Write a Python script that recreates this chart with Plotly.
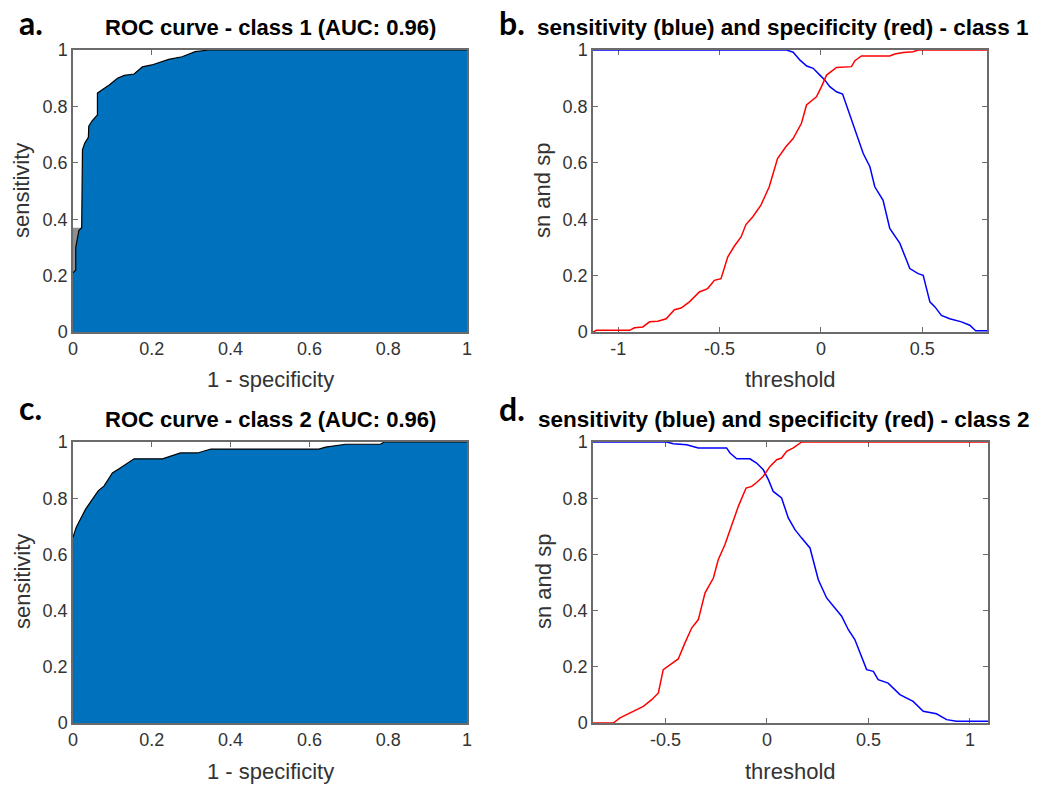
import plotly.graph_objects as go

# ---------------- data ----------------
# ROC curve, class 1: false positive rate (1 - specificity) vs sensitivity
roc1_fpr = [0.0, 0.007, 0.007, 0.011, 0.015, 0.022, 0.024, 0.030, 0.039, 0.040,
            0.049, 0.062, 0.062, 0.075, 0.092, 0.113, 0.130, 0.155, 0.176, 0.200,
            0.243, 0.277, 0.310, 0.345, 1.0]
roc1_tpr = [0.21, 0.22, 0.30, 0.33, 0.36, 0.37, 0.646, 0.67, 0.69, 0.73,
            0.75, 0.77, 0.847, 0.86, 0.876, 0.90, 0.91, 0.915, 0.94, 0.947,
            0.967, 0.976, 0.994, 1.0, 1.0]

# ROC curve, class 2
roc2_fpr = [0.0, 0.008, 0.019, 0.032, 0.049, 0.064, 0.079, 0.091, 0.100, 0.117,
            0.138, 0.155, 0.227, 0.253, 0.273, 0.316, 0.350, 0.624, 0.641, 0.692,
            0.780, 0.790, 1.0]
roc2_tpr = [0.661, 0.696, 0.726, 0.761, 0.796, 0.826, 0.844, 0.873, 0.890, 0.905,
            0.926, 0.940, 0.940, 0.953, 0.961, 0.961, 0.975, 0.975, 0.982, 0.992,
            0.992, 1.0, 1.0]

# Sensitivity / specificity vs threshold, class 1
sp1_thr = [-1.125, -1.108, -0.944, -0.920, -0.879, -0.846, -0.805, -0.764, -0.723, -0.690,
           -0.649, -0.600, -0.559, -0.526, -0.493, -0.460, -0.427, -0.394, -0.370, -0.337,
           -0.296, -0.255, -0.214, -0.173, -0.137, -0.096, -0.071, -0.022, 0.003, 0.028,
           0.077, 0.151, 0.168, 0.200, 0.340, 0.365, 0.406, 0.456, 0.480, 0.820]
sp1_val = [0.0, 0.006, 0.006, 0.015, 0.018, 0.036, 0.038, 0.047, 0.079, 0.085,
           0.107, 0.142, 0.154, 0.183, 0.189, 0.266, 0.305, 0.337, 0.381, 0.408,
           0.450, 0.515, 0.615, 0.657, 0.686, 0.740, 0.805, 0.834, 0.870, 0.911,
           0.938, 0.941, 0.962, 0.979, 0.979, 0.986, 0.991, 0.994, 1.0, 1.0]

sn1_thr = [-1.125, -0.169, -0.137, -0.103, -0.070, -0.038, -0.005, 0.020, 0.044, 0.077,
           0.107, 0.135, 0.176, 0.209, 0.242, 0.266, 0.307, 0.340, 0.390, 0.439,
           0.480, 0.505, 0.538, 0.563, 0.595, 0.636, 0.694, 0.735, 0.764, 0.820]
sn1_val = [1.0, 1.0, 0.992, 0.964, 0.943, 0.935, 0.911, 0.893, 0.870, 0.852,
           0.844, 0.787, 0.704, 0.633, 0.586, 0.515, 0.467, 0.367, 0.314, 0.225,
           0.207, 0.201, 0.107, 0.089, 0.059, 0.047, 0.036, 0.024, 0.004, 0.004]

# Sensitivity / specificity vs threshold, class 2
sp2_thr = [-0.857, -0.757, -0.724, -0.691, -0.650, -0.609, -0.568, -0.535, -0.511, -0.478,
           -0.437, -0.404, -0.371, -0.338, -0.305, -0.264, -0.240, -0.207, -0.182, -0.141,
           -0.103, -0.075, -0.051, -0.018, 0.015, 0.048, 0.072, 0.097, 0.130, 0.171, 1.089]
sp2_val = [0.0, 0.0, 0.018, 0.030, 0.042, 0.059, 0.083, 0.107, 0.190, 0.208,
           0.228, 0.285, 0.338, 0.368, 0.463, 0.516, 0.581, 0.635, 0.688, 0.771,
           0.836, 0.842, 0.856, 0.878, 0.913, 0.937, 0.943, 0.967, 0.979, 1.0, 1.0]

sn2_thr = [-0.857, -0.494, -0.461, -0.396, -0.338, -0.199, -0.182, -0.149, -0.084, -0.051,
           -0.018, 0.007, 0.031, 0.072, 0.105, 0.138, 0.171, 0.212, 0.253, 0.294,
           0.368, 0.401, 0.433, 0.491, 0.524, 0.548, 0.597, 0.655, 0.720, 0.770,
           0.835, 0.885, 0.934, 1.089]
sn2_val = [1.0, 1.0, 0.994, 0.990, 0.979, 0.979, 0.961, 0.940, 0.940, 0.925,
           0.901, 0.866, 0.824, 0.801, 0.730, 0.688, 0.658, 0.623, 0.510, 0.445,
           0.380, 0.332, 0.297, 0.190, 0.184, 0.154, 0.142, 0.101, 0.077, 0.042,
           0.033, 0.012, 0.006, 0.006]

roc_ticks = [0, 0.2, 0.4, 0.6, 0.8, 1]
roc_ticklabels = ["0", "0.2", "0.4", "0.6", "0.8", "1"]
thr1_ticks = [-1, -0.5, 0, 0.5]
thr1_ticklabels = ["-1", "-0.5", "0", "0.5"]
thr2_ticks = [-0.5, 0, 0.5, 1]
thr2_ticklabels = ["-0.5", "0", "0.5", "1"]

# ---------------- layout geometry ----------------
W, H = 1039, 786
FONT = "Liberation Sans, Arial, sans-serif"
AXCOL = "#6b6b6b"
TXT = "#333333"
ROC_BLUE = "#0072BD"


def px_x(p):
    return p / W


def px_y(p):
    return 1 - p / H


fig = go.Figure()

# panel a: ROC class 1 (small grey wedge at the left edge, then filled area)
fig.add_trace(go.Scatter(x=roc1_fpr[:6], y=roc1_tpr[:6], fill="tozerox",
                         fillcolor="#8f8f8f", line=dict(color="#8f8f8f", width=0),
                         mode="lines", xaxis="x", yaxis="y", hoverinfo="skip"))
fig.add_trace(go.Scatter(x=roc1_fpr, y=roc1_tpr, fill="tozeroy", fillcolor=ROC_BLUE,
                         line=dict(color="black", width=1.2), mode="lines",
                         xaxis="x", yaxis="y"))

# panel b: sensitivity / specificity class 1
fig.add_trace(go.Scatter(x=sn1_thr, y=sn1_val, mode="lines",
                         line=dict(color="#0000FF", width=1.5), xaxis="x2", yaxis="y2"))
fig.add_trace(go.Scatter(x=sp1_thr, y=sp1_val, mode="lines",
                         line=dict(color="#FF0000", width=1.5), xaxis="x2", yaxis="y2"))

# panel c: ROC class 2
fig.add_trace(go.Scatter(x=roc2_fpr, y=roc2_tpr, fill="tozeroy", fillcolor=ROC_BLUE,
                         line=dict(color="black", width=1.2), mode="lines",
                         xaxis="x3", yaxis="y3"))

# panel d: sensitivity / specificity class 2
fig.add_trace(go.Scatter(x=sn2_thr, y=sn2_val, mode="lines",
                         line=dict(color="#0000FF", width=1.5), xaxis="x4", yaxis="y4"))
fig.add_trace(go.Scatter(x=sp2_thr, y=sp2_val, mode="lines",
                         line=dict(color="#FF0000", width=1.5), xaxis="x4", yaxis="y4"))


def axis(domain, rng, tickvals, ticktext, anchor):
    return dict(domain=domain, range=rng, tickvals=tickvals, ticktext=ticktext,
                anchor=anchor, showline=True, linecolor=AXCOL, linewidth=1.5,
                mirror="ticks", ticks="inside", ticklen=5, tickwidth=1,
                tickcolor=AXCOL, showgrid=False, zeroline=False, automargin=False,
                tickfont=dict(family=FONT, size=18, color=TXT),
                layer="below traces")


xa = [px_x(73), px_x(467)]
xb = [px_x(593), px_x(987)]
xd = [px_x(593), px_x(988)]
ytop = [px_y(332), px_y(50)]
ybot = [px_y(723), px_y(442)]

fig.update_layout(
    width=W, height=H, autosize=False,
    margin=dict(l=0, r=0, t=0, b=0, pad=0, autoexpand=False),
    paper_bgcolor="white", plot_bgcolor="white",
    showlegend=False,
    xaxis=axis(xa, [0, 1], roc_ticks, roc_ticklabels, "y"),
    yaxis=axis(ytop, [0, 1], roc_ticks, roc_ticklabels, "x"),
    xaxis2=axis(xb, [-1.125, 0.82], thr1_ticks, thr1_ticklabels, "y2"),
    yaxis2=axis(ytop, [0, 1], roc_ticks, roc_ticklabels, "x2"),
    xaxis3=axis(xa, [0, 1], roc_ticks, roc_ticklabels, "y3"),
    yaxis3=axis(ybot, [0, 1], roc_ticks, roc_ticklabels, "x3"),
    xaxis4=axis(xd, [-0.857, 1.089], thr2_ticks, thr2_ticklabels, "y4"),
    yaxis4=axis(ybot, [0, 1], roc_ticks, roc_ticklabels, "x4"),
)

ann = []


def label(text, x, y, size, bold=False, color=TXT, angle=0, family=FONT):
    t = f"<b>{text}</b>" if bold else text
    ann.append(dict(text=t, x=px_x(x), y=px_y(y), xref="paper", yref="paper",
                    xanchor="center", yanchor="middle", showarrow=False,
                    textangle=angle, font=dict(family=family, size=size, color=color)))


# panel titles
label("ROC curve - class 1 (AUC: 0.96)", 270, 28, 22, bold=True, color="black")
label("sensitivity (blue) and specificity (red) - class 1", 782, 28, 22.5, bold=True, color="black")
label("ROC curve - class 2 (AUC: 0.96)", 270, 419, 22, bold=True, color="black")
label("sensitivity (blue) and specificity (red) - class 2", 783, 419, 22.5, bold=True, color="black")

# axis titles
label("1 - specificity", 270, 379, 22)
label("threshold", 790, 379, 22)
label("1 - specificity", 270, 771, 22)
label("threshold", 790, 771, 22)
label("sensitivity", 22, 191, 22, angle=-90)
label("sn and sp", 543, 191, 22, angle=-90)
label("sensitivity", 22, 582, 22, angle=-90)
label("sn and sp", 543, 582, 22, angle=-90)

# panel letters
PFONT = "Lato, Open Sans, sans-serif"
label("a.", 31, 23, 32, bold=True, color="black", family=PFONT)
label("b.", 512, 23, 32, bold=True, color="black", family=PFONT)
label("c.", 30, 407, 32, bold=True, color="black", family=PFONT)
label("d.", 512, 409, 32, bold=True, color="black", family=PFONT)

fig.update_layout(annotations=ann)

fig.write_html("out.html")
